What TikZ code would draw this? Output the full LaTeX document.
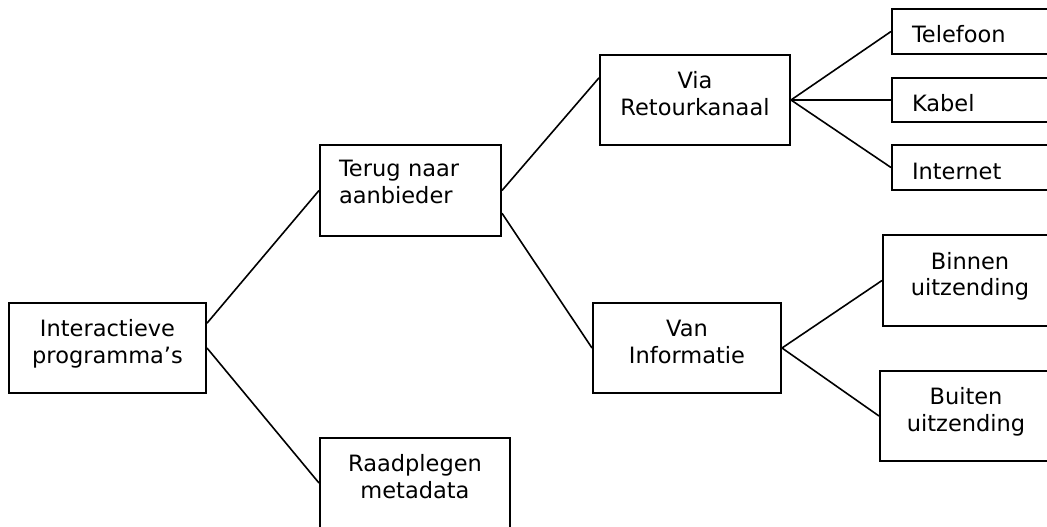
\documentclass[tikz,border=0pt]{standalone}
\usepackage{fontspec}
\setmainfont{DejaVu Sans}
\newcommand{\boxfont}{\fontsize{22.5}{26.5}\selectfont}

\begin{document}
\begin{tikzpicture}[x=1pt,y=-1pt,
   box/.style={draw,line width=2pt,inner sep=0pt,minimum height=90pt,
     align=center,font=\boxfont,text height=41pt,text depth=11pt},
   leaf/.style={draw,line width=2pt,inner sep=0pt,inner xsep=20pt,
     minimum height=45pt,text width=123pt,align=left,font=\boxfont,
     text height=23pt,text depth=0pt},
   link/.style={line width=1.6pt}]
   \useasboundingbox (0,0) rectangle (1047,527);
   \clip (0,0) rectangle (1047,527);
   \node[box,minimum width=197pt] (prog) at (107.5,348) {Interactieve\\programma’s};
   \node[box,minimum height=91pt,inner xsep=19pt,text width=143pt,align=left,
     text height=15pt,text depth=43pt] (terug) at (410.5,190.5) {Terug naar\\aanbieder};
   \node[box,minimum width=190pt] (raad) at (415,483) {Raadplegen\\metadata};
   \node[box,minimum width=190pt] (via) at (695,100) {Via\\Retourkanaal};
   \node[box,minimum width=188pt] (van) at (687,348) {Van\\Informatie};
   \node[leaf] (tel) at (973.5,31.5) {Telefoon};
   \node[leaf,minimum height=44pt] (kabel) at (973.5,100) {Kabel};
   \node[leaf] (inet) at (973.5,167.5) {Internet};
   \node[box,minimum width=174pt,minimum height=91pt] (binnen) at (970,280.5) {Binnen\\uitzending};
   \node[box,minimum width=172pt] (buiten) at (966,416) {Buiten\\uitzending};
   \draw[link] (prog.14) -- (terug.west);
   \draw[link] (prog.east) -- (raad.west);
   \draw[link] (terug.east) -- (via.167);
   \draw[link] (terug.-14) -- (van.west);
   \draw[link] (via.east) -- (tel.west);
   \draw[link] (via.east) -- (kabel.west);
   \draw[link] (via.east) -- (inet.west);
   \draw[link] (van.east) -- (binnen.west);
   \draw[link] (van.east) -- (buiten.west);
\end{tikzpicture}
\end{document}
